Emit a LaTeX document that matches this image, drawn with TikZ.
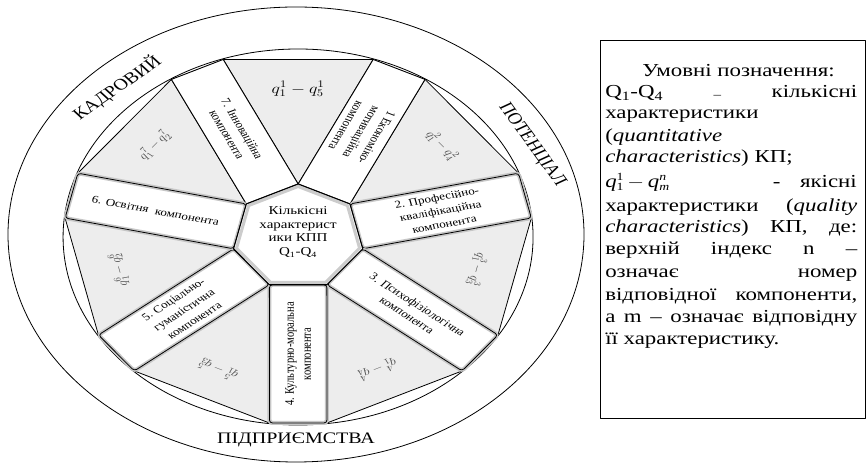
\documentclass[tikz,border=0pt]{standalone}
\usepackage{fontspec}
\setmainfont{Liberation Serif}
\usetikzlibrary{calc}
\begin{document}
\begin{tikzpicture}[x=1pt,y=1pt,xscale=1.25,transform shape,line join=round,
  tri/.style={fill=gray!14,draw=black,line width=0.8pt},
  boxplain/.style={fill=white,draw=black,line width=0.9pt},
  boxshade/.style={draw=gray!45,line width=4pt,rounded corners=3pt},
  boxline/.style={draw=black,line width=0.8pt,rounded corners=3pt},
  boxtext/.style={font=\fontsize{10.5}{13.5}\selectfont,align=center,inner sep=0pt},
  qlab/.style={font=\fontsize{11}{13}\selectfont,text=black!70,inner sep=0pt},
  band/.style={font=\fontsize{16}{18}\selectfont,inner sep=0pt},
  legend/.style={font=\fontsize{18.3}{21.5}\selectfont,inner sep=0pt,anchor=base west}]
\useasboundingbox (0,0) rectangle (692.8,465);

% outer ellipse and inner circle
\draw[line width=0.8pt] (236.8,230.5) ellipse [x radius=230.4, y radius=227.5];
\coordinate (C) at (238.4,228);
\draw[line width=0.8pt] (C) circle [radius=188];

% heptagon vertices and box corners
\def\R{53}
\def\L{138.25}
\foreach \k in {0,...,6}{
  \coordinate (V\k) at ($(C)+({90-360/7*\k}:\R)$);
}
\foreach \k in {0,...,6}{
  \pgfmathtruncatemacro{\kn}{mod(\k+1,7)}
  \pgfmathsetmacro{\a}{90-360/7*\k-180/7}
  \coordinate (A\k) at ($(V\k)+(\a:\L)$);
  \coordinate (B\k) at ($(V\kn)+(\a:\L)$);
}

% grey triangles
\foreach \k in {0,...,6}{
  \pgfmathtruncatemacro{\kp}{mod(\k+6,7)}
  \draw[tri] (V\k) -- (B\kp) -- (A\k) -- cycle;
}

% plain boxes (1 and 7)
\draw[boxplain] (V0) -- (A0) -- (B0) -- (V1) -- cycle;
\draw[boxplain] (V6) -- (A6) -- (B6) -- (V0) -- cycle;
% shaded boxes (2..6)
\foreach \k in {1,...,5}{
  \pgfmathtruncatemacro{\kn}{mod(\k+1,7)}
  \path[fill=white] (V\k) -- (A\k) -- (B\k) -- (V\kn) -- cycle;
  \draw[boxshade] (V\k) -- (A\k) -- (B\k) -- (V\kn) -- cycle;
  \draw[boxline] (V\k) -- (A\k) -- (B\k) -- (V\kn) -- cycle;
}

% central heptagon
\path[fill=white] (V0) -- (V1) -- (V2) -- (V3) -- (V4) -- (V5) -- (V6) -- cycle;
\draw[gray!40,line width=3pt] ($(C)+(90:50.5)$) \foreach \k in {1,...,6}{ -- ($(C)+({90-360/7*\k}:50.5)$)} -- cycle;
\draw[black,line width=1.1pt] (V0) -- (V1) -- (V2) -- (V3) -- (V4) -- (V5) -- (V6) -- cycle;
\node[font=\fontsize{12}{13.5}\selectfont,align=center,inner sep=0pt] (centre) at ($(C)+(0,5)$)
  {Кількісні\\характерист\\ики КПП\\Q\textsubscript{1}-Q\textsubscript{4}};

% box texts
\node[boxtext,rotate=-115.71] (t1) at ($(C)+(64.29:116.9)$) {1 Економіко-\\мотиваційна\\компонента};
\node[boxtext,rotate=12.86] (t2) at ($(C)+(12.86:116.9)$) {2. Професійно-\\кваліфікаційна\\компонента};
\node[boxtext,rotate=-38.57] (t3) at ($(C)+(-38.57:116.9)$) {3. Психофізіологічна\\компонента};
\node[boxtext,rotate=90] (t4) at ($(C)+(-90:116.9)$) {4. Культурно-моральна\\компонента};
\node[boxtext,rotate=38.57] (t5) at ($(C)+(-141.43:116.9)$) {5. Соціально-\\гуманістична\\компонента};
\node[boxtext,rotate=-12.86] (t6) at ($(C)+(167.14:116.9)$) {6. Освітня~~компонента};
\node[boxtext,rotate=-64.29] (t7) at ($(C)+(115.71:116.9)$) {7. Інноваційна\\компонента};

% triangle labels
\node[font=\fontsize{14}{16}\selectfont,inner sep=0pt] (q1) at ($(C)+(90:148)$) {$q_1^1-q_5^1$};
\node[qlab,rotate=-51.43] (q2) at ($(C)+(38.57:147)$) {$q_1^2-q_4^2$};
\node[qlab,rotate=-102.86] (q3) at ($(C)+(-12.86:147)$) {$q_1^3-q_3^3$};
\node[qlab,rotate=-154.29] (q4) at ($(C)+(-64.29:147)$) {$q_1^4-q_4^4$};
\node[qlab,rotate=154.29] (q5) at ($(C)+(-115.71:147)$) {$q_1^5-q_3^5$};
\node[qlab,rotate=102.86] (q6) at ($(C)+(-167.14:147)$) {$q_1^6-q_2^6$};
\node[qlab,rotate=51.43] (q7) at ($(C)+(141.43:147)$) {$q_1^7-q_2^7$};

% band texts
\node[band,rotate=41] (kadr) at (93.6,377) {КАДРОВИЙ};
\node[band,rotate=-60] (pot) at (425.4,320) {ПОТЕНЦІАЛ};
\node[band] (pidp) at (236.8,25) {ПІДПРИЄМСТВА};

% legend
\draw[line width=0.8pt] (480,425) rectangle (692.6,47);
\node[legend] (l1) at (513.6,388.3) {Умовні позначення:};
\node[legend] (l2) at (484,367) {\makebox[201.6pt][s]{Q\textsubscript{1}-Q\textsubscript{4} {\fontsize{12}{12}\selectfont\raisebox{-1pt}{–}} кількісні}};
\node[legend] (l3) at (484,346) {характеристики};
\node[legend] (l4) at (484,323) {(\textit{quantitative}};
\node[legend] (l5) at (484,302) {\textit{characteristics}) КП;};
\node[legend] (l6a) at (484,277) {\textit{q}\rlap{\raisebox{7pt}{\fontsize{11}{11}\selectfont 1}}\raisebox{-3pt}{\fontsize{11}{11}\selectfont 1}\,$-$\,\textit{q}\rlap{\raisebox{7pt}{\fontsize{11}{11}\selectfont\itshape n}}\raisebox{-3pt}{\fontsize{11}{11}\selectfont\itshape m}};
\node[legend] (l6b) at (618,277) {-};
\node[legend,anchor=base east] (l6c) at (685.6,277) {якісні};
\node[legend] (l7) at (484,253) {\makebox[201.6pt][s]{характеристики (\textit{quality}}};
\node[legend] (l8) at (484,232) {\makebox[201.6pt][s]{\textit{characteristics}) КП, де:}};
\node[legend] (l9) at (484,210) {\makebox[201.6pt][s]{верхній індекс n –}};
\node[legend] (l10) at (484,187) {\makebox[201.6pt][s]{означає номер}};
\node[legend] (l11) at (484,164) {\makebox[201.6pt][s]{відповідної компоненти,}};
\node[legend] (l12) at (484,142) {\makebox[201.6pt][s]{а m – означає відповідну}};
\node[legend] (l13) at (484,120) {її характеристику.};
\end{tikzpicture}
\end{document}
